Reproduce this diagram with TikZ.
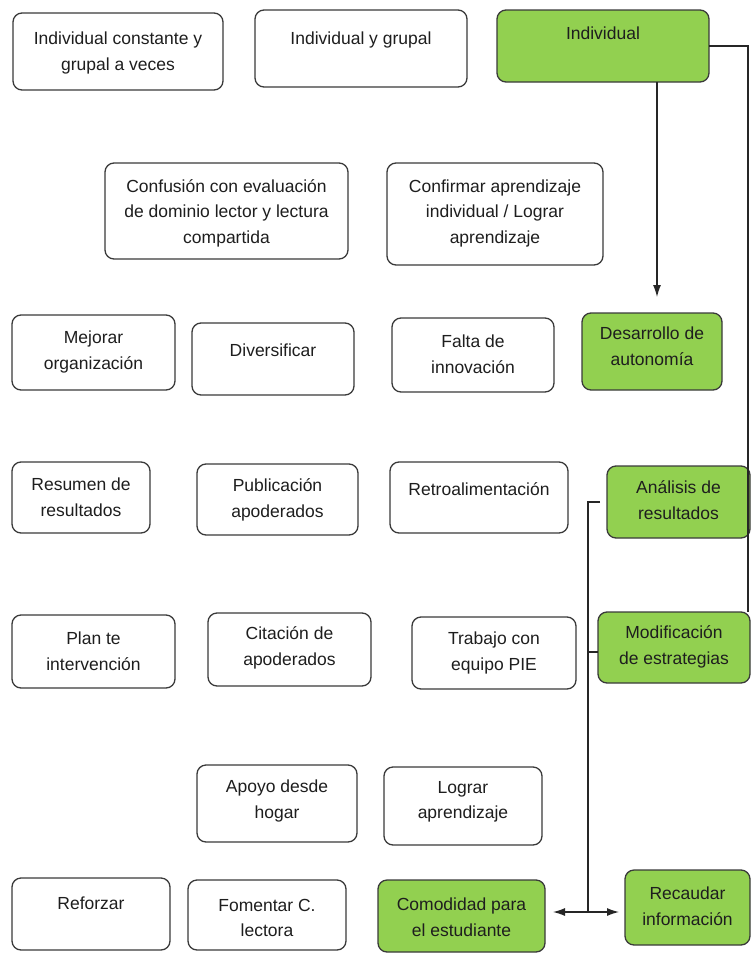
\documentclass[tikz,border=0pt]{standalone}
\usepackage{fontspec}
\setmainfont{Liberation Sans}
\usetikzlibrary{fit,arrows.meta}
\definecolor{leaf}{HTML}{92D050}
\definecolor{edge}{HTML}{3A3A3A}
\definecolor{ink}{HTML}{1E1E1E}

% \card[extra style]{name}{x1}{y1}{x2}{y2}{text centre y}{text}
\newcommand{\card}[8][]{%
  \node[cardbox,#1,fit={(#3,#4) (#5,#6)}] (#2) {};
  \node[cardtext] (#2-t) at ({(#3+#5)/2},#7) {#8};
}

\begin{document}
\begin{tikzpicture}[x=1pt,y=-1pt,
  cardbox/.style={draw=edge, line width=1.3pt, rounded corners=9pt, fill=white,
                  inner sep=0pt, outer sep=0pt},
  green/.style={fill=leaf},
  cardtext/.style={align=center, text=ink, inner sep=0pt,
                   font=\fontsize{17.5}{25.5}\selectfont},
  conn/.style={draw=black!85, line width=1.2pt},
  tip/.style={-{Latex[length=12pt,width=8pt]}}
]
\useasboundingbox (0,0) rectangle (751,953);

% first row
\card{a1}{13}{13}{223}{90}{53}{Individual constante y\\grupal a veces}
\card{a2}{255}{10}{467}{87}{40}{Individual y grupal}
\card[green]{a3}{497}{10}{709}{82}{33}{Individual}

% second row
\card{b1}{105}{163}{348}{259}{213}{Confusión con evaluación\\de dominio lector y lectura\\compartida}
\card{b2}{387}{163}{603}{265}{213}{Confirmar aprendizaje\\individual / Lograr\\aprendizaje}

% third row
\card{c1}{12}{315}{175}{390}{352}{Mejorar\\organización}
\card{c2}{192}{323}{354}{395}{350}{Diversificar}
\card{c3}{392}{318}{554}{392}{354}{Falta de\\innovación}
\card[green]{c4}{582}{313}{722}{390}{346}{Desarrollo de\\autonomía}

% fourth row
\card{d1}{12}{462}{150}{533}{497}{Resumen de\\resultados}
\card{d2}{197}{464}{358}{535}{500}{Publicación\\apoderados}
\card{d3}{390}{462}{568}{533}{489}{Retroalimentación}
\card[green]{d4}{607}{466}{750}{538}{500}{Análisis de\\resultados}

% fifth row
\card{e1}{12}{615}{175}{688}{651}{Plan te\\intervención}
\card{e2}{208}{613}{371}{686}{648}{Citación de\\apoderados}
\card{e3}{412}{617}{576}{689}{653}{Trabajo con\\equipo PIE}
\card[green]{e4}{598}{612}{750}{683}{647}{Modificación\\de estrategias}

% sixth row
\card{f1}{197}{765}{357}{842}{801}{Apoyo desde\\hogar}
\card{f2}{384}{767}{542}{845}{802}{Lograr\\aprendizaje}

% last row
\card{g1}{12}{878}{170}{950}{903}{Reforzar}
\card{g2}{188}{880}{346}{950}{918}{Fomentar C.\\lectora}
\card[green]{g3}{378}{880}{545}{952}{917}{Comodidad para\\el estudiante}
\card[green]{g4}{625}{870}{750}{945}{906}{Recaudar\\información}

% connectors
\coordinate (drop) at (657,297);
\draw[conn,tip] (a3.south -| drop) -- (drop);
\coordinate (rail) at (748,612);
\draw[conn] (a3.east) -| (rail);

\coordinate (j1) at (588,502);
\coordinate (j2) at (588,652);
\coordinate (j3) at (588,912);
\draw[conn] ([xshift=-7pt]d4.west) -- (j1) -- (j2) -- (598,652);
\draw[conn] (j2) -- (j3);
\draw[conn,{Latex[length=12pt,width=8pt]}-{Latex[length=12pt,width=8pt]}]
  ([xshift=8pt]g3.east |- j3) -- ([xshift=-6pt]g4.west |- j3);
\end{tikzpicture}
\end{document}
